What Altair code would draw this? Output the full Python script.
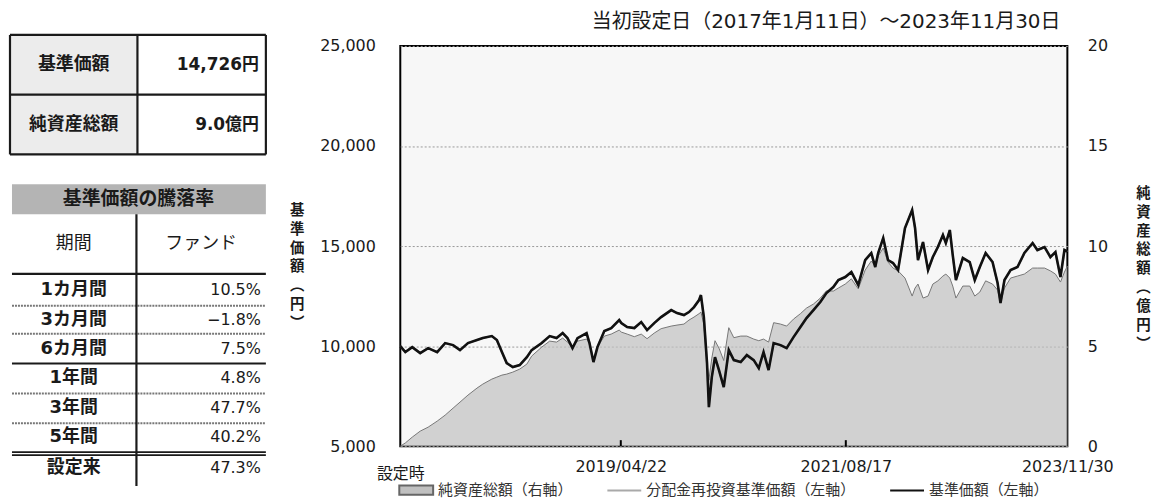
import altair as alt
import pandas as pd

# ------------------------------------------------------------------ data
DATES = [
    "2017-01-11", "2017-01-30", "2017-02-25", "2017-03-27", "2017-04-26", "2017-05-30", "2017-06-29",
    "2017-07-29", "2017-08-24", "2017-09-23", "2017-10-27", "2017-11-18", "2017-12-22",
    "2018-01-10", "2018-01-29", "2018-02-16", "2018-03-11", "2018-04-06", "2018-05-03", "2018-05-21",
    "2018-06-28", "2018-07-28", "2018-08-23", "2018-09-15", "2018-10-03", "2018-10-22", "2018-11-10",
    "2018-12-14", "2018-12-25",
    "2019-01-09", "2019-01-24", "2019-02-19", "2019-03-17", "2019-04-16", "2019-04-24", "2019-05-16",
    "2019-06-12", "2019-07-08", "2019-07-30", "2019-08-26", "2019-09-21", "2019-10-29", "2019-11-20",
    "2019-12-16",
    "2020-01-04", "2020-01-23", "2020-02-11", "2020-02-18", "2020-02-29", "2020-03-12", "2020-03-19",
    "2020-03-30", "2020-04-11", "2020-04-26", "2020-05-14", "2020-06-02", "2020-06-21", "2020-07-17",
    "2020-08-09", "2020-09-04", "2020-09-23", "2020-10-11", "2020-10-30", "2020-11-18", "2020-12-14",
    "2021-01-06", "2021-02-01", "2021-02-27", "2021-03-22", "2021-04-17", "2021-05-13", "2021-06-05",
    "2021-07-01", "2021-07-20", "2021-08-15", "2021-09-07", "2021-10-03", "2021-10-29", "2021-11-21",
    "2021-12-06", "2021-12-17",
    "2022-01-05", "2022-01-23", "2022-02-11", "2022-03-02", "2022-03-28", "2022-04-24", "2022-05-05",
    "2022-05-16", "2022-06-04", "2022-06-23", "2022-07-11", "2022-07-30", "2022-08-18", "2022-08-29",
    "2022-09-13", "2022-09-24", "2022-10-06", "2022-11-01", "2022-11-27", "2022-12-16",
    "2023-01-04", "2023-01-26", "2023-02-21", "2023-03-12", "2023-03-23", "2023-04-07", "2023-04-30",
    "2023-05-26", "2023-06-21", "2023-07-22", "2023-08-09", "2023-09-05", "2023-09-27", "2023-10-16",
    "2023-11-04", "2023-11-19", "2023-11-30",
]

# 基準価額（円）
NAV = [
    10000, 9700, 9950, 9650, 9900, 9700, 10150, 10050, 9800, 10150, 10300, 10400, 10500,
    10300, 9700, 9150, 8950, 9050, 9450, 9800, 10150, 10500, 10400, 10650, 10400, 9900, 10400, 10650, 10150,
    9200, 9950, 10750, 10900, 11300, 11150, 10950, 10900, 11200, 10800, 11150, 11450, 11800, 11650, 11550,
    11700, 11950, 12300, 12550, 11450, 9150, 6950, 8450, 9450, 8800, 7950, 9800, 9300, 9200, 9550, 9300,
    8900, 9700, 8800, 10150, 10050,
    9900, 10450, 10950, 11400, 11800, 12200, 12650, 12950, 13300, 13450, 13700, 13050, 14300, 14650, 13950, 14650,
    15400, 14300, 14150, 13800, 15900, 16800, 15900, 14300, 15200, 13800, 14450, 14950, 15550, 15150, 15800,
    14550, 13300, 14400, 14200, 13300,
    13950, 14650, 14200, 13150, 12150, 13300, 13800, 13950, 14650, 15150, 14800, 14950, 14450, 14700, 13450,
    14800, 14726,
]

# 分配金再投資基準価額（円） – no distributions, it lies under the NAV line
REINVEST_NAV = [
    10000, 9700, 9950, 9650, 9900, 9700, 10150, 10050, 9800, 10150, 10300, 10400, 10500,
    10300, 9700, 9150, 8950, 9050, 9450, 9800, 10150, 10500, 10400, 10650, 10400, 9900, 10400, 10650, 10150,
    9200, 9950, 10750, 10900, 11300, 11150, 10950, 10900, 11200, 10800, 11150, 11450, 11800, 11650, 11550,
    11700, 11950, 12300, 12550, 11450, 9150, 6950, 8450, 9450, 8800, 7950, 9800, 9300, 9200, 9550, 9300,
    8900, 9700, 8800, 10150, 10050,
    9900, 10450, 10950, 11400, 11800, 12200, 12650, 12950, 13300, 13450, 13700, 13050, 14300, 14650, 13950, 14650,
    15400, 14300, 14150, 13800, 15900, 16800, 15900, 14300, 15200, 13800, 14450, 14950, 15550, 15150, 15800,
    14550, 13300, 14400, 14200, 13300,
    13950, 14650, 14200, 13150, 12150, 13300, 13800, 13950, 14650, 15150, 14800, 14950, 14450, 14700, 13450,
    14800, 14726,
]

# 純資産総額（億円）
NET_ASSETS = [
    0.0, 0.16, 0.45, 0.75, 0.95, 1.25, 1.55, 1.9, 2.2, 2.55, 2.9, 3.1, 3.35,
    3.45, 3.55, 3.6, 3.7, 3.85, 4.1, 4.5, 4.95, 5.25, 5.2, 5.4, 5.2, 4.95, 5.25, 5.35, 5.15,
    4.35, 4.95, 5.5, 5.6, 5.8, 5.7, 5.6, 5.47, 5.6, 5.37, 5.65, 5.87, 6.0, 6.05, 6.1,
    6.3, 6.45, 6.62, 6.7, 6.1, 4.15, 3.3, 4.4, 5.27, 4.9, 4.28, 5.92, 5.42, 5.5, 5.5, 5.35,
    5.27, 5.35, 5.2, 6.17, 6.1,
    6.0, 6.35, 6.62, 6.9, 7.1, 7.4, 7.76, 7.75, 7.9, 8.1, 8.36, 7.86, 8.8, 9.25, 9.0, 9.5,
    9.9, 9.2, 8.9, 8.76, 8.4, 7.5, 7.9, 8.1, 7.4, 7.5, 8.1, 8.26, 8.5, 8.6, 8.4, 8.0, 7.4, 8.0, 8.0, 7.5,
    7.7, 8.26, 8.1, 7.8, 7.16, 7.9, 8.4, 8.5, 8.6, 8.9, 8.9, 8.9, 8.76, 8.6, 8.2, 8.7, 9.0,
]

TICK_DATES = ["2019-04-22", "2021-08-17"]
Y_LEFT_TICKS = [5000, 10000, 15000, 20000, 25000]
Y_RIGHT_TICKS = [0, 5, 10, 15, 20]

CHART_TITLE = "当初設定日（2017年1月11日）～2023年11月30日"
LEFT_TITLE = ["基", "準", "価", "額", "︵", "円", "︶"]
RIGHT_TITLE = ["純", "資", "産", "総", "額", "︵", "億", "円", "︶"]
SERIES = ["純資産総額（右軸）", "分配金再投資基準価額（左軸）", "基準価額（左軸）"]
FIRST_LABEL = "設定時"

SUMMARY_LABELS = ["基準価額", "純資産総額"]
SUMMARY_VALUES = ["14,726円", "9.0億円"]
RET_HEADER = "基準価額の騰落率"
RET_COLS = ["期間", "ファンド"]
RET_PERIODS = ["1カ月間", "3カ月間", "6カ月間", "1年間", "3年間", "5年間", "設定来"]
RET_VALUES = ["10.5%", "−1.8%", "7.5%", "4.8%", "47.7%", "40.2%", "47.3%"]

# ------------------------------------------------------------------ styles
FONT_CJK = "Noto Sans CJK JP"
FONT_NUM = "DejaVu Sans, Noto Sans CJK JP"
INK = "#1a1a1a"
PLOT_W, PLOT_H = 670, 402

# ------------------------------------------------------------------ tables panel
# panel origin sits level with the chart's plot-area origin (page x 8, page y 44)
TW, TH = 262, PLOT_H
OX, OY = 8, 44


def px(v):
    return v - OX


def py(v):
    return v - OY


XS = alt.Scale(domain=[0, TW], nice=False, zero=False)
YS = alt.Scale(domain=[0, TH], nice=False, zero=False, reverse=True)


def qx(f):
    return alt.X(f, type="quantitative", scale=XS, axis=None)


def qy(f):
    return alt.Y(f, type="quantitative", scale=YS, axis=None)


fills = pd.DataFrame([
    {"x": px(8), "x2": px(136), "y": py(33), "y2": py(153), "c": "#ececec"},
    {"x": px(10), "x2": px(265), "y": py(183), "y2": py(213), "c": "#b4b4b4"},
])
fill_layer = alt.Chart(fills).mark_rect().encode(
    x=qx("x"), x2="x2", y=qy("y"), y2="y2", fill=alt.Fill("c:N", scale=None))

row_lines_solid = [273, 363]
row_lines_dotted = [305, 333, 393, 423]
row_lines_double = [452, 455]
row_text_y = [289, 319, 348, 378, 408, 437, 468]

solid = [
    (8, 265, 33, 33), (8, 265, 153, 153), (8, 8, 33, 153), (265, 265, 33, 153),
    (8, 265, 93, 93), (136, 136, 33, 153), (135, 135, 213, 486),
] + [(10, 265, y, y) for y in row_lines_solid]
solid_df = pd.DataFrame([{"x": px(a), "x2": px(b), "y": py(c), "y2": py(d)} for a, b, c, d in solid])
solid_layer = alt.Chart(solid_df).mark_rule(color=INK, strokeWidth=2.2).encode(
    x=qx("x"), x2="x2", y=qy("y"), y2="y2")

dbl_df = pd.DataFrame([{"x": px(10), "x2": px(265), "y": py(y), "y2": py(y)} for y in row_lines_double])
dbl_layer = alt.Chart(dbl_df).mark_rule(color=INK, strokeWidth=1.6).encode(
    x=qx("x"), x2="x2", y=qy("y"), y2="y2")

dot_df = pd.DataFrame([{"x": px(10), "x2": px(265), "y": py(y), "y2": py(y)} for y in row_lines_dotted])
dot_layer = alt.Chart(dot_df).mark_rule(color="#777777", strokeWidth=2, strokeDash=[2, 1]).encode(
    x=qx("x"), x2="x2", y=qy("y"), y2="y2")


def text_layer(rows, align, size, weight, font):
    d = pd.DataFrame([{"x": px(a), "y": py(b), "t": t} for a, b, t in rows])
    return alt.Chart(d).mark_text(
        align=align, baseline="middle", fontSize=size, fontWeight=weight, font=font, color=INK
    ).encode(x=qx("x"), y=qy("y"), text="t:N")


t_sum_lab = text_layer([(72, 63, SUMMARY_LABELS[0]), (72, 123, SUMMARY_LABELS[1])],
                       "center", 18, "bold", FONT_CJK)
t_sum_val = text_layer([(258, 63, SUMMARY_VALUES[0]), (258, 123, SUMMARY_VALUES[1])],
                       "right", 17, "bold", FONT_NUM)
t_head = text_layer([(137, 198, RET_HEADER)], "center", 19, "bold", FONT_CJK)
t_cols = text_layer([(72, 243, RET_COLS[0]), (200, 243, RET_COLS[1])], "center", 18, "normal", FONT_CJK)
t_per = text_layer([(72, y, p) for y, p in zip(row_text_y, RET_PERIODS)], "center", 18, "bold", FONT_NUM)
t_val = text_layer([(260, y, v) for y, v in zip(row_text_y, RET_VALUES)], "right", 16, "normal", FONT_NUM)

tables = alt.layer(
    fill_layer, dot_layer, solid_layer, dbl_layer, t_sum_lab, t_sum_val, t_head, t_cols, t_per, t_val
).properties(width=TW, height=TH,
             view=alt.ViewBackground(fill="transparent", stroke="transparent", strokeWidth=0))

# ------------------------------------------------------------------ chart panel
df = pd.DataFrame({"date": DATES, "nav": NAV, "reinvest": REINVEST_NAV, "na": NET_ASSETS})

d0 = alt.DateTime(year=2017, month=1, date=11, utc=True)
d1 = alt.DateTime(year=2023, month=11, date=30, utc=True)
x_vals = [d0, alt.DateTime(year=2019, month=4, date=22, utc=True),
          alt.DateTime(year=2021, month=8, date=17, utc=True), d1]

x_axis = alt.Axis(
    values=x_vals,
    labelExpr=f"datum.index == 0 ? '{FIRST_LABEL}' : utcFormat(datum.value, '%Y/%m/%d')",
    labelFont=FONT_NUM, labelFontSize=16, labelColor=INK,
    labelPadding={"condition": {"test": "datum.index == 0", "value": 19}, "value": 12},
    labelOverlap=False, labelFlush=False, ticks=False, domain=False, grid=False, title=None,
)
x_enc = alt.X("date:T", scale=alt.Scale(domain=[d0, d1]), axis=x_axis)

left_axis = alt.Axis(
    orient="left", values=Y_LEFT_TICKS, labelExpr="format(datum.value, ',')",
    labelFont=FONT_NUM, labelFontSize=16, labelColor=INK, labelPadding=25,
    ticks=False, domain=False, grid=True, gridColor="#999999", gridDash=[2, 2], gridWidth=1,
    title=LEFT_TITLE, titleAngle=0, titleX=-104, titleY=158, titleAlign="center",
    titleBaseline="top", titleFont=FONT_CJK, titleFontSize=14.5, titleFontWeight="bold",
    titleLineHeight=19, titleColor=INK,
)
right_axis = alt.Axis(
    orient="right", values=Y_RIGHT_TICKS,
    labelFont=FONT_NUM, labelFontSize=16, labelColor=INK, labelPadding=20,
    ticks=False, domain=False, grid=False,
    title=RIGHT_TITLE, titleAngle=0, titleX=76, titleY=141, titleAlign="center",
    titleBaseline="top", titleFont=FONT_CJK, titleFontSize=14.5, titleFontWeight="bold",
    titleLineHeight=19, titleColor=INK,
)

y_left_scale = alt.Scale(domain=[5000, 25000], nice=False, zero=False)

area = alt.Chart(df).mark_area(
    color="#c0c0c0", line={"color": "#777777", "strokeWidth": 1}
).encode(x=x_enc, y=alt.Y("na:Q", scale=alt.Scale(domain=[0, 20], nice=False), axis=right_axis))

reinv = alt.Chart(df).mark_line(color="#a9a9a9", strokeWidth=2).encode(
    x=x_enc, y=alt.Y("reinvest:Q", scale=y_left_scale, axis=left_axis))
nav = alt.Chart(df).mark_line(color="#111111", strokeWidth=2.6).encode(
    x=x_enc, y=alt.Y("nav:Q", scale=y_left_scale, axis=left_axis))

tick_df = pd.DataFrame({"date": TICK_DATES, "lo": [5000] * len(TICK_DATES), "hi": [5300] * len(TICK_DATES)})
ticks = alt.Chart(tick_df).mark_rule(color="black", strokeWidth=2).encode(
    x=x_enc, y=alt.Y("lo:Q", scale=y_left_scale, axis=left_axis), y2="hi:Q")

RECT_PATH = "M-1,-0.27H1V0.27H-1Z"
LINE_PATH = "M-1,0H1"


def make_legend():
    return alt.Legend(
        orient="none", legendX=390, legendY=428, direction="horizontal", title=None,
        labelFont=FONT_CJK, labelFontSize=15, labelColor="#333333", labelLimit=0,
        symbolSize=1156, symbolStrokeWidth=2, symbolOpacity=1, columnPadding=30,
        labelOffset=4, padding=0,
    )


leg_df = pd.DataFrame({"series": SERIES})
legend_layer = alt.Chart(leg_df).mark_point(opacity=0, filled=True, strokeWidth=2).encode(
    shape=alt.Shape("series:N", scale=alt.Scale(domain=SERIES, range=[RECT_PATH, LINE_PATH, LINE_PATH]),
                    legend=make_legend()),
    fill=alt.Fill("series:N", scale=alt.Scale(domain=SERIES, range=["#c0c0c0", "transparent", "transparent"]),
                  legend=make_legend()),
    stroke=alt.Stroke("series:N", scale=alt.Scale(domain=SERIES, range=["#666666", "#a9a9a9", "#111111"]),
                      legend=make_legend()),
)

left_group = alt.layer(reinv, nav, ticks, legend_layer)

chart_panel = alt.layer(area, left_group).resolve_scale(y="independent").properties(
    width=PLOT_W, height=PLOT_H,
    title=alt.TitleParams(CHART_TITLE, anchor="end", frame="group", dx=-7, offset=6,
                          font=FONT_NUM, fontSize=20, fontWeight="normal", color=INK),
    view=alt.ViewBackground(fill="#f7f7f7", stroke="black", strokeWidth=2),
)

chart = alt.hconcat(tables, chart_panel, spacing=17).properties(
    padding={"left": 0, "top": 2, "right": 0, "bottom": 0}
).configure_view(stroke="transparent").configure(background="white")

chart.save("out.html", embed_options={"renderer": "svg", "actions": False})
